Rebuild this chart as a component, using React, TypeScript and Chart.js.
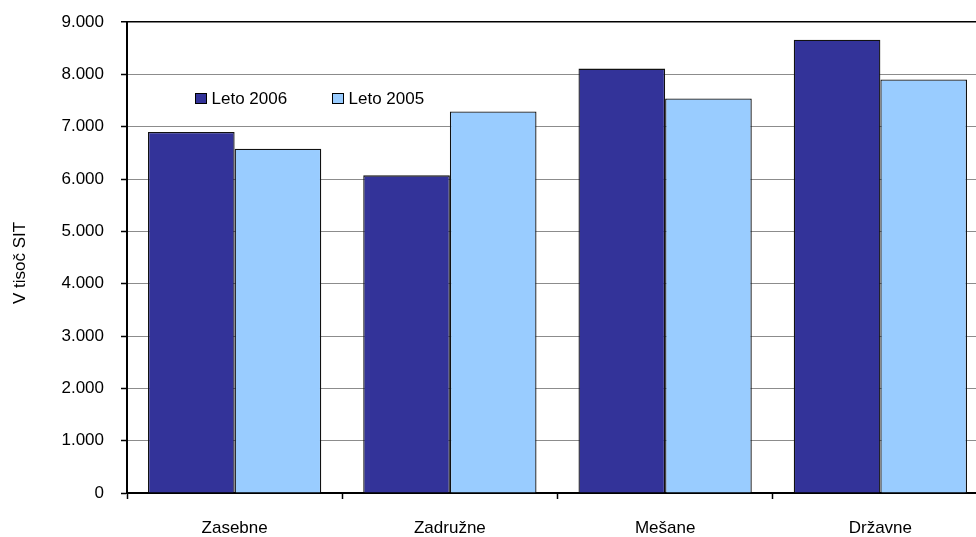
import React, { useEffect, useRef } from "react";
import { Chart, registerables } from "chart.js";

Chart.register(...registerables);

const categories = ["Zasebne", "Zadružne", "Mešane", "Državne"];
const seriesNames = ["Leto 2006", "Leto 2005"];
const values2006 = [6900, 6070, 8110, 8660];
const values2005 = [6580, 7290, 7540, 7900];
const seriesColors = ["#333399", "#99CCFF"];
const yMin = 0;
const yMax = 9000;
const yStep = 1000;
const yTitle = "V tisoč SIT";

const FONT = "'Liberation Sans', Arial, sans-serif";

function fmt(v: number): string {
  return String(Math.round(v)).replace(/\B(?=(\d{3})+(?!\d))/g, ".");
}

const overlayPlugin = {
  id: "overlay",
  afterDraw(chart: any) {
    const ctx = chart.ctx;
    ctx.save();
    ctx.font = `17px ${FONT}`;
    ctx.fillStyle = "#000";
    ctx.textAlign = "center";
    ctx.textBaseline = "middle";
    ctx.translate(20, 263);
    ctx.rotate(-Math.PI / 2);
    ctx.fillText(yTitle, 0, 0);
    ctx.restore();

    ctx.save();
    ctx.font = `17px ${FONT}`;
    ctx.textAlign = "left";
    ctx.textBaseline = "alphabetic";
    const xs = [195.5, 332.5];
    chart.data.datasets.forEach((ds: any, i: number) => {
      const x = xs[i];
      ctx.fillStyle = ds.backgroundColor;
      ctx.fillRect(x, 93.5, 11, 10);
      ctx.strokeStyle = "#000";
      ctx.lineWidth = 1;
      ctx.strokeRect(x, 93.5, 11, 10);
      ctx.fillStyle = "#000";
      ctx.fillText(ds.label, x + 16, 104);
    });
    ctx.restore();
  },
};

export default function App() {
  const ref = useRef<HTMLCanvasElement | null>(null);
  useEffect(() => {
    document.body.style.margin = "0";
    document.body.style.overflow = "hidden";
    const canvas = ref.current!;
    const chart = new Chart(canvas, {
      type: "bar",
      data: {
        labels: categories,
        datasets: [
          {
            label: seriesNames[0],
            data: values2006,
            backgroundColor: seriesColors[0],
            borderColor: "#111",
            borderWidth: 1.3,
            categoryPercentage: 0.805,
            barPercentage: 1,
          },
          {
            label: seriesNames[1],
            data: values2005,
            backgroundColor: seriesColors[1],
            borderColor: "#111",
            borderWidth: 1.3,
            categoryPercentage: 0.805,
            barPercentage: 1,
          },
        ],
      },
      options: {
        responsive: false,
        animation: false,
        devicePixelRatio: 1,
        layout: { padding: { top: 22, right: 0, bottom: 0, left: 0 } },
        plugins: {
          legend: { display: false },
          tooltip: { enabled: false },
          title: { display: false },
        },
        scales: {
          x: {
            offset: true,
            border: { display: true, color: "#000", width: 2 },
            grid: {
              display: true,
              offset: true,
              drawOnChartArea: false,
              drawTicks: true,
              tickLength: 6,
              tickColor: "#000",
              tickWidth: 1.5,
            },
            ticks: {
              color: "#000",
              font: { family: FONT, size: 17 },
              padding: 19,
              maxRotation: 0,
            },
            afterFit: (scale: any) => {
              scale.height = 44;
              scale.paddingLeft = 0;
              scale.paddingRight = 0;
            },
          },
          y: {
            min: yMin,
            max: yMax,
            border: { display: true, color: "#000", width: 2 },
            grid: {
              color: (c: any) => (c.tick && c.tick.value === yMax ? "#000" : "#8c8c8c"),
              lineWidth: (c: any) => (c.tick && c.tick.value === yMax ? 1.5 : 1),
              tickColor: "#000",
              tickLength: 6,
              tickWidth: 1.5,
            },
            ticks: {
              stepSize: yStep,
              color: "#000",
              font: { family: FONT, size: 17 },
              padding: 17,
              callback: (v: any) => fmt(Number(v)),
            },
            afterFit: (scale: any) => {
              scale.width = 127;
              scale.paddingTop = 0;
              scale.paddingBottom = 0;
            },
          },
        },
      } as any,
      plugins: [overlayPlugin],
    });
    return () => chart.destroy();
  }, []);
  return (
    <div style={{ width: 976, height: 537, overflow: "hidden", position: "relative", background: "#fff" }}>
      <canvas ref={ref} width={988} height={537} style={{ display: "block", width: 988, height: 537 }} />
    </div>
  );
}
